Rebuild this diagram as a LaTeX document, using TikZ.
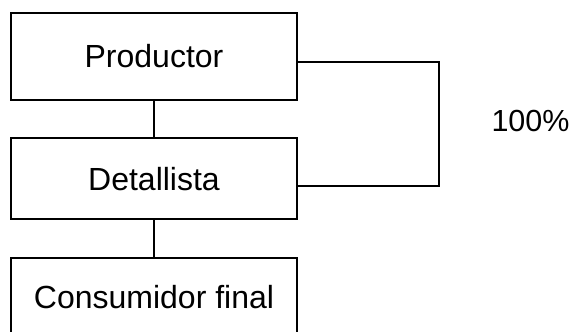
\documentclass[tikz,border=0pt]{standalone}
\usepackage{fontspec}
\setmainfont{Liberation Sans}
\begin{document}
\begin{tikzpicture}[x=1pt,y=-1pt,
  box/.style={draw,line width=1.6pt,rectangle,inner sep=0pt,minimum width=286pt,font=\fontsize{32}{38}\selectfont},
  link/.style={line width=1.6pt}]
\useasboundingbox (0,0) rectangle (573,332);
\clip (0,0) rectangle (573,332);
\node[box,minimum height=87pt] (prod) at (154,56.5) {Productor};
\node[box,minimum height=81pt] (det) at (154,178.7) {Detallista};
\node[box,minimum height=84pt,anchor=north] (cons) at (154,257) {};
\node[font=\fontsize{32}{38}\selectfont] (constxt) at (154,297.5) {Consumidor final};
\draw[link] (prod.south) -- (det.north);
\draw[link] (det.south) -- (cons.north);
\coordinate (bt) at (439,62);
\coordinate (bb) at (439,186);
\draw[link] (bt -| prod.east) -- (bt) -- (bb) -- (bb -| det.east);
\node[font=\fontsize{30.5}{36}\selectfont] (pct) at (530.5,121) {100\%};
\end{tikzpicture}
\end{document}
